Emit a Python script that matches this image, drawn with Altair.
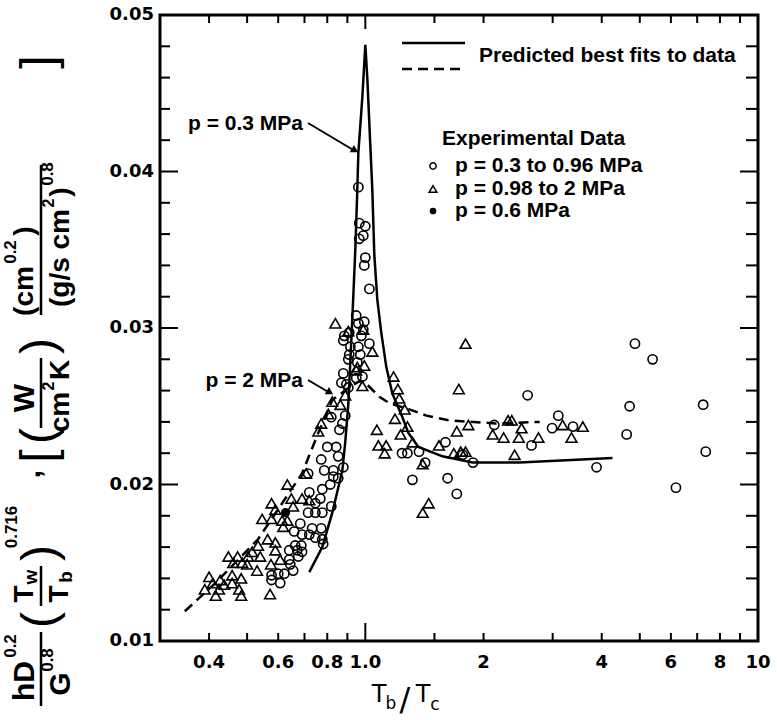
import altair as alt
import pandas as pd

# ---------------- data ----------------
circ_x = [0.960, 0.965, 1.000, 0.988, 0.965, 1.000, 0.994, 1.024,
          0.948, 0.994, 0.960, 0.988, 0.910, 0.884, 0.879, 0.977, 1.024, 0.916, 0.960, 0.971,
          0.910, 0.905, 0.954, 0.879, 0.983, 0.948, 0.869, 0.895, 0.905, 0.889, 0.819, 0.874, 0.859,
          0.800, 0.843, 0.772, 0.853, 0.879, 0.786, 0.829, 0.715, 0.829, 0.853, 0.814, 0.777, 0.720,
          0.768, 0.746, 0.819, 0.715, 0.746, 0.777, 0.683, 0.732, 0.772, 0.659, 0.690, 0.720, 0.746,
          0.777, 0.781, 0.663, 0.687, 0.671, 0.640, 0.690, 0.675, 0.640, 0.644, 0.655, 0.622, 0.600,
          0.577, 0.577, 0.607,
          1.318, 1.620, 1.710, 1.240, 1.280, 1.370, 1.420, 1.600, 1.770, 1.880, 2.130, 2.590, 3.100,
          2.650, 2.990, 3.380, 3.880, 4.860, 5.390, 4.710, 7.250, 4.630, 7.360, 6.180]
circ_y = [0.0390, 0.0367, 0.0365, 0.0359, 0.0357, 0.0345, 0.0340, 0.0325,
          0.0308, 0.0304, 0.0303, 0.0299, 0.0297, 0.0295, 0.0292, 0.0295, 0.0290, 0.0288, 0.0288, 0.0283,
          0.0283, 0.0280, 0.0278, 0.0271, 0.0269, 0.0268, 0.0265, 0.0264, 0.0262, 0.0244, 0.0243, 0.0239, 0.0235,
          0.0224, 0.0224, 0.0216, 0.0218, 0.0211, 0.0209, 0.0209, 0.0207, 0.0205, 0.0204, 0.0200, 0.0197, 0.0195,
          0.0191, 0.0188, 0.0186, 0.0182, 0.0182, 0.0182, 0.0175, 0.0172, 0.0172, 0.0170, 0.0168, 0.0168, 0.0166,
          0.0165, 0.0162, 0.0161, 0.0161, 0.0158, 0.0158, 0.0157, 0.0154, 0.0152, 0.0149, 0.0145, 0.0143, 0.0143,
          0.0142, 0.0139, 0.0137,
          0.0203, 0.0204, 0.0194, 0.0220, 0.0220, 0.0221, 0.0214, 0.0227, 0.0219, 0.0214, 0.0238, 0.0257, 0.0244,
          0.0225, 0.0236, 0.0237, 0.0211, 0.0290, 0.0280, 0.0250, 0.0251, 0.0232, 0.0221, 0.0198]

tri_x = [0.839, 0.905, 0.988, 1.042, 0.954, 0.994, 0.983, 0.948, 1.180, 1.210, 1.220, 1.260, 1.190,
         1.280, 1.070, 0.824, 0.864, 0.889, 0.805, 0.772, 0.759, 0.707, 0.633, 0.648, 0.690, 0.720,
         0.577, 0.590, 0.655, 0.546, 0.577, 0.614, 0.633, 0.618, 0.564, 0.590, 0.533, 0.515, 0.540,
         0.503, 0.590, 0.607, 0.575, 0.530, 0.500, 0.473, 0.448, 0.461, 0.486, 0.458, 0.483, 0.427,
         0.458, 0.483, 0.572, 0.424, 0.477, 0.400, 0.409, 0.390, 0.416, 0.437,
         1.230, 1.080, 1.130, 1.120, 1.320, 1.400, 1.540, 1.680, 1.750, 1.800, 1.450, 1.400,
         1.800, 1.730, 2.310, 1.830, 1.710, 2.360, 2.500, 2.110, 2.250, 2.460, 2.760, 3.180, 3.580,
         3.350, 2.400]
tri_y = [0.0303, 0.0298, 0.0299, 0.0285, 0.0275, 0.0276, 0.0263, 0.0273, 0.0269, 0.0261, 0.0255, 0.0248, 0.0242,
         0.0237, 0.0235, 0.0253, 0.0251, 0.0257, 0.0245, 0.0239, 0.0234, 0.0207, 0.0200, 0.0191, 0.0191, 0.0190,
         0.0188, 0.0184, 0.0186, 0.0178, 0.0178, 0.0177, 0.0177, 0.0173, 0.0165, 0.0163, 0.0161, 0.0157, 0.0154,
         0.0154, 0.0158, 0.0152, 0.0149, 0.0145, 0.0149, 0.0154, 0.0154, 0.0150, 0.0150, 0.0142, 0.0140, 0.0139,
         0.0137, 0.0129, 0.0130, 0.0133, 0.0133, 0.0141, 0.0137, 0.0133, 0.0129, 0.0136,
         0.0232, 0.0225, 0.0225, 0.0220, 0.0227, 0.0213, 0.0225, 0.0220, 0.0221, 0.0221, 0.0188, 0.0182,
         0.0290, 0.0261, 0.0241, 0.0238, 0.0234, 0.0241, 0.0236, 0.0232, 0.0230, 0.0230, 0.0230, 0.0238, 0.0237,
         0.0230, 0.0219]

fill_x = [0.626]
fill_y = [0.0182]

# p = 0.3 MPa best fit (solid)
solid_x = [0.720, 0.777, 0.824, 0.874, 0.889, 0.905, 0.927, 0.943, 0.954, 0.960, 0.983, 1.000,
           1.012, 1.030, 1.042, 1.054, 1.073, 1.098, 1.131, 1.172, 1.243, 1.287, 1.365, 1.572,
           1.875, 2.470, 4.260]
solid_y = [0.0144, 0.0160, 0.0182, 0.0209, 0.0227, 0.0251, 0.0307, 0.0350, 0.0388, 0.0412, 0.0448, 0.0481,
           0.0459, 0.0416, 0.0388, 0.0347, 0.0318, 0.0297, 0.0275, 0.0258, 0.0243, 0.0233, 0.0224, 0.0218,
           0.0214, 0.0214, 0.0217]

# p = 2 MPa best fit (dashed)
dash_x = [0.347, 0.415, 0.533, 0.614, 0.690, 0.759, 0.824, 0.910, 0.965, 1.000, 1.086, 1.151,
          1.295, 1.431, 1.628, 2.146, 2.780]
dash_y = [0.0119, 0.0137, 0.0165, 0.0188, 0.0207, 0.0233, 0.0254, 0.0262, 0.0266, 0.0265, 0.0256, 0.0252,
          0.0248, 0.0244, 0.0241, 0.0239, 0.0240]

x_label_vals = [0.4, 0.6, 0.8, 1.0, 2, 4, 6, 8, 10]
x_label_text = ["0.4", "0.6", "0.8", "1.0", "2", "4", "6", "8", "10"]
x_minor_ticks = [0.4, 0.5, 0.6, 0.7, 0.8, 0.9, 1.5, 2, 3, 4, 5, 6, 7, 8, 9]
x_major_ticks = [1.0]
y_label_vals = [0.01, 0.02, 0.03, 0.04, 0.05]
y_label_text = ["0.01", "0.02", "0.03", "0.04", "0.05"]
y_minor_ticks = [0.012, 0.014, 0.016, 0.018, 0.022, 0.024, 0.026, 0.028,
                 0.032, 0.034, 0.036, 0.038, 0.042, 0.044, 0.046, 0.048]
y_major_ticks = [0.02, 0.03, 0.04]

# ---------------- layout ----------------
CW, CH = 777, 720            # whole canvas = view
PL, PT, W, H = 160, 15, 598, 626   # plot box inside the view
X0, X1, Y0, Y1 = 0.3, 10.0, 0.01, 0.05
SANS = "Liberation Sans, Arial, sans-serif"
ROUND = "DejaVu Sans, sans-serif"

XS = alt.Scale(type="log", domain=[X0, X1], range=[PL, PL + W], nice=False)
YS = alt.Scale(domain=[Y0, Y1], range=[PT + H, PT], nice=False, zero=False)

circles = pd.DataFrame({"x": circ_x, "y": circ_y})
tris = pd.DataFrame({"x": tri_x, "y": tri_y})
filled = pd.DataFrame({"x": fill_x, "y": fill_y})
solid = pd.DataFrame({"x": solid_x, "y": solid_y, "o": list(range(len(solid_x)))})
dashed = pd.DataFrame({"x": dash_x, "y": dash_y, "o": list(range(len(dash_x)))})
ONE = pd.DataFrame({"k": [0]})

X = lambda f: alt.X(f, scale=XS, axis=None)
Y = lambda f: alt.Y(f, scale=YS, axis=None)

pts_c = alt.Chart(circles).mark_point(shape="circle", filled=False, color="black",
                                      strokeWidth=1.6, size=85, opacity=1).encode(
    x=X("x:Q"), y=Y("y:Q"))
pts_t = alt.Chart(tris).mark_point(shape="triangle-up", filled=False, color="black",
                                   strokeWidth=1.6, size=115, opacity=1).encode(
    x=X("x:Q"), y=Y("y:Q"))
pts_f = alt.Chart(filled).mark_point(shape="circle", filled=True, color="black",
                                     size=85, opacity=1).encode(
    x=X("x:Q"), y=Y("y:Q"))

line_s = alt.Chart(solid).mark_line(color="black", strokeWidth=2.5).encode(
    x=X("x:Q"), y=Y("y:Q"), order="o:Q")
line_d = alt.Chart(dashed).mark_line(color="black", strokeWidth=2.5, strokeDash=[10, 6]).encode(
    x=X("x:Q"), y=Y("y:Q"), order="o:Q")

# ---- frame and inward ticks as scale-driven line segments ----
dy = (Y1 - Y0) / H
lx = (X1 / X0) ** (1.0 / W)
rows = []
k = 0


def add(xa, ya, xb, yb):
    global k
    rows.append({"id": k, "x": xa, "y": ya, "o": 0})
    rows.append({"id": k, "x": xb, "y": yb, "o": 1})
    k += 1


for v in x_minor_ticks:
    add(v, Y0, v, Y0 + 8 * dy); add(v, Y1, v, Y1 - 8 * dy)
for v in x_major_ticks:
    add(v, Y0, v, Y0 + 18 * dy); add(v, Y1, v, Y1 - 14 * dy)
for v in y_minor_ticks:
    add(X0, v, X0 * lx ** 10, v); add(X1, v, X1 / lx ** 12, v)
for v in y_major_ticks:
    add(X0, v, X0 * lx ** 18, v); add(X1, v, X1 / lx ** 18, v)
tick_df = pd.DataFrame(rows)
tick_lines = alt.Chart(tick_df).mark_line(color="black", strokeWidth=2).encode(
    x=X("x:Q"), y=Y("y:Q"), detail="id:N", order="o:Q")

frame_df = pd.DataFrame({"x": [X0, X1, X1, X0, X0], "y": [Y0, Y0, Y1, Y1, Y0], "o": [0, 1, 2, 3, 4]})
frame_line = alt.Chart(frame_df).mark_line(color="black", strokeWidth=3, strokeCap="square").encode(
    x=X("x:Q"), y=Y("y:Q"), order="o:Q")

xlab = alt.Chart(pd.DataFrame({"v": x_label_vals, "t": x_label_text})).mark_text(
    font=ROUND, fontWeight="bold", fontSize=18, color="black", baseline="middle", align="center").encode(
    x=X("v:Q"), y=alt.value(PT + H + 22), text="t:N")
ylab = alt.Chart(pd.DataFrame({"v": y_label_vals, "t": y_label_text})).mark_text(
    font=ROUND, fontWeight="bold", fontSize=18, color="black", baseline="middle", align="right").encode(
    y=Y("v:Q"), x=alt.value(PL - 6), text="t:N")


def txt(s, px, py, size, weight="bold", angle=0, align="center", baseline="middle", font=SANS):
    return alt.Chart(ONE).mark_text(text=s, fontSize=size, fontWeight=weight, angle=angle,
                                    align=align, baseline=baseline, font=font, color="black").encode(
        x=alt.value(px), y=alt.value(py))


def seg(x1, y1, x2, y2, width=2.5, dash=None):
    kw = dict(color="black", strokeWidth=width)
    if dash:
        kw["strokeDash"] = dash
    return alt.Chart(ONE).mark_rule(**kw).encode(
        x=alt.value(x1), y=alt.value(y1), x2=alt.value(x2), y2=alt.value(y2))


def head(px, py, ang):
    return alt.Chart(ONE).mark_point(shape="triangle-right", filled=True, color="black",
                                     size=70, angle=ang, opacity=1).encode(
        x=alt.value(px), y=alt.value(py))


def mark(px, py, shape, fill, size):
    return alt.Chart(ONE).mark_point(shape=shape, filled=fill, color="black", strokeWidth=1.5,
                                     size=size, opacity=1).encode(
        x=alt.value(px), y=alt.value(py))


R = 270
ytitle = [
    txt("hD", 25, 681, 30, angle=R), txt("0.2", 11, 646, 17, angle=R),
    seg(41, 706, 41, 632, 2.5),
    txt("G", 61, 684, 30, angle=R), txt("0.8", 48, 660, 17, angle=R),
    txt("(", 41, 620, 48, weight="normal", angle=R),
    txt("T", 25, 594, 28, angle=R), txt("w", 31, 577, 19, angle=R),
    seg(41, 606, 41, 566, 2.5),
    txt("T", 60, 594, 28, angle=R), txt("b", 66, 577, 19, angle=R),
    txt(")", 41, 553, 48, weight="normal", angle=R),
    txt("0.716", 12, 527, 17, angle=R),
    txt(",", 31, 474, 30, angle=R),
    txt("[", 40, 456, 48, weight="normal", angle=R),
    txt("(", 40, 436, 48, weight="normal", angle=R),
    txt("W", 25, 398, 30, angle=R),
    seg(41, 428, 41, 358, 2.5),
    txt("cm", 61, 412, 28, angle=R), txt("2", 49, 386, 16, angle=R), txt("K", 61, 370, 28, angle=R),
    txt(")", 40, 346, 48, weight="normal", angle=R),
    txt("(cm", 25, 291, 28, angle=R), txt("0.2", 11, 252, 17, angle=R), txt(")", 25, 231, 28, angle=R),
    seg(41, 315, 41, 165, 2.5),
    txt("(g/s cm", 61, 258, 28, angle=R), txt("2", 49, 203, 16, angle=R),
    txt(")", 61, 192, 28, angle=R), txt("0.8", 48, 174, 17, angle=R),
    txt("]", 40, 62, 48, weight="normal", angle=R),
]

xtitle = [
    txt("T", 379, 695, 24, weight="normal", font=ROUND),
    txt("b", 391, 704, 17, weight="normal", font=ROUND),
    txt("/", 405, 700, 32, weight="normal", font=ROUND),
    txt("T", 423, 695, 24, weight="normal", font=ROUND),
    txt("c", 435, 705, 17, weight="normal", font=ROUND),
]

annos = [
    seg(402, 43, 465, 43, 2.5),
    seg(402, 69, 465, 69, 2.5, dash=[10, 6]),
    txt("Predicted best fits to data", 479, 56, 21, align="left"),
    txt("Experimental Data", 442, 139, 21, align="left"),
    mark(433, 166, "circle", False, 40), txt("p = 0.3 to 0.96 MPa", 455, 166, 21, align="left"),
    mark(433, 189, "triangle-up", False, 60), txt("p = 0.98 to 2 MPa", 455, 189, 21, align="left"),
    mark(433, 211, "circle", True, 45), txt("p = 0.6 MPa", 455, 211, 21, align="left"),
    txt("p = 0.3 MPa", 303, 124, 21, align="right"),
    seg(308, 123, 355, 151, 2),
    head(355, 150.5, 30),
    txt("p = 2 MPa", 303, 381, 21, align="right"),
    seg(308, 380, 330, 393, 2),
    head(330, 392.5, 30),
]

chart = alt.layer(
    pts_c, pts_t, pts_f, line_s, line_d, xlab, ylab, *ytitle, *xtitle, *annos, frame_line, tick_lines
).properties(
    width=CW, height=CH,
    autosize=alt.AutoSizeParams(type="none"),
    padding=0,
).configure(background="white", view=alt.ViewConfig(stroke=None))

chart.save("out.html", embed_options={"renderer": "svg", "actions": False})
